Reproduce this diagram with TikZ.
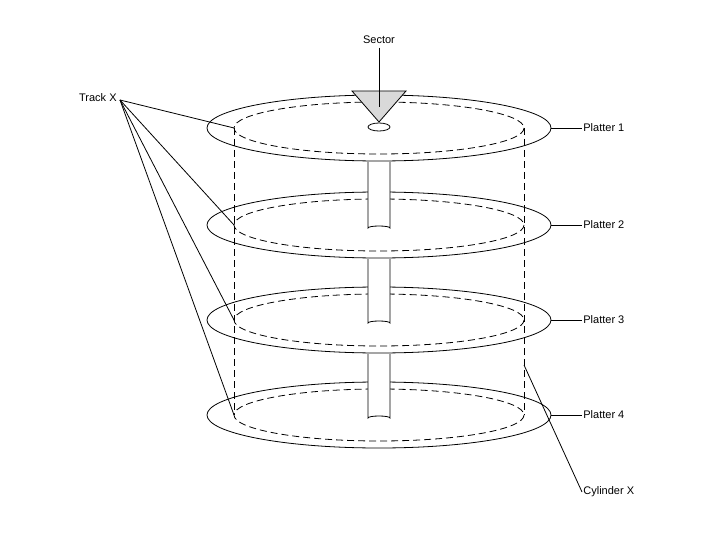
\documentclass[tikz,border=0pt]{standalone}
\usepackage{fontspec}
\setmainfont{Liberation Sans}
\begin{document}
\begin{tikzpicture}[x=1pt,y=-1pt,font=\fontsize{11}{13}\selectfont,line width=0.8pt]
  \tikzset{plat/.style={draw},
    trk/.style={draw,dash pattern=on 7pt off 4pt},
    lead/.style={draw},
    spin/.style={fill=white}}
  \useasboundingbox (0,0) rectangle (720,540);
  % platters
  \foreach \y/\n in {128/1,225/2,320/3,415/4}{
    \draw[plat] (379,\y) ellipse [x radius=172,y radius=33];
    \draw[trk] (379,\y) ellipse [x radius=145,y radius=26];
    \coordinate (trk\n) at (234,\y);
    \coordinate (pl\n) at (551,\y);
    \node[anchor=west,inner sep=1pt] (lab\n) at (582,\y) {Platter \n};
    \draw[lead] (pl\n) -- (lab\n.west);
  }
  % spindle
  \foreach \a/\b in {162/228,259/323,354/418}{
    \fill[spin] (368,\a) rectangle (390,\b);
    \draw (368,\a) -- (368,\b) arc[start angle=180,end angle=360,x radius=11,y radius=2] -- (390,\a);
  }
  % cylinder
  \draw[trk] (trk1) -- (trk4);
  \draw[trk] (524,128) -- (524,415);
  % sector
  \draw[fill=black!15] (352,91) -- (406,91) -- (379,122) -- cycle;
  \draw (379,127) ellipse [x radius=11,y radius=4];
  \node (sec) at (379,40) {Sector};
  \draw[lead] (sec.south) -- (379,107);
  % track
  \node[anchor=east,inner sep=1pt] (trkx) at (118,98) {Track X};
  \coordinate (tp) at (120,100);
  \foreach \n in {1,...,4} \draw[lead] (tp) -- (trk\n);
  % cylinder label
  \node[anchor=west,inner sep=1pt] (cyl) at (582,492) {Cylinder X};
  \coordinate (cp) at (524,365);
  \draw[lead] (cp) -- (cyl.west);
\end{tikzpicture}
\end{document}
